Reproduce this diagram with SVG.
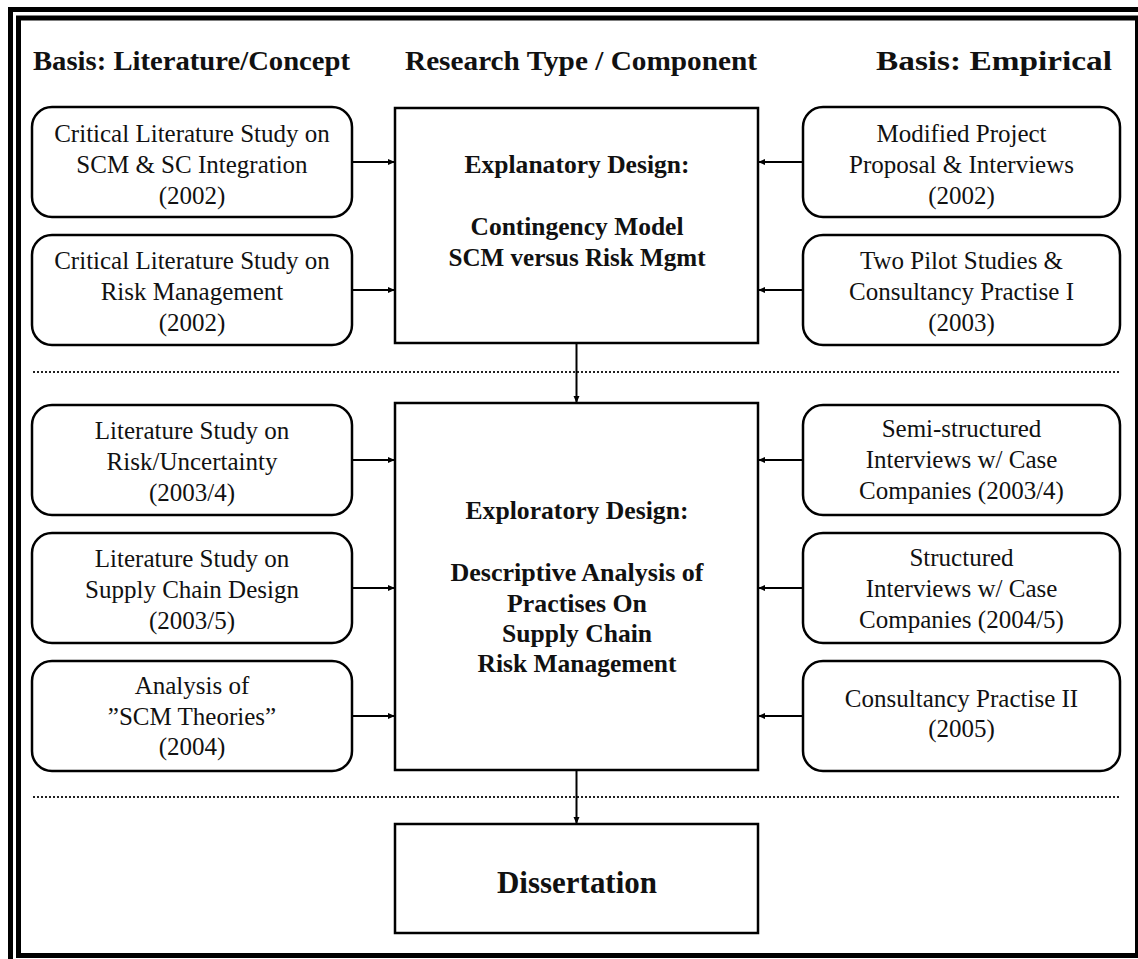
<svg xmlns="http://www.w3.org/2000/svg" width="1138" height="959" viewBox="0 0 1138 959">
<style>
.frame{fill:none;stroke:#000;stroke-width:5}
.rbox{fill:#fff;stroke:#000;stroke-width:2.5}
.mbox{fill:#fff;stroke:#000;stroke-width:2.5}
.t{font-family:"Liberation Serif","Times New Roman",serif;font-size:25px;fill:#111;text-anchor:middle}
.b{font-family:"Liberation Serif","Times New Roman",serif;font-weight:bold;font-size:26px;fill:#111;text-anchor:middle}
.h{font-family:"Liberation Serif","Times New Roman",serif;font-weight:bold;font-size:27px;fill:#111;text-anchor:middle}
.conn{stroke:#000;stroke-width:2;fill:none}
.dot{stroke:#222;stroke-width:2;stroke-dasharray:2 2;fill:none}
</style>
<defs>
<marker id="ah" markerWidth="8" markerHeight="8" refX="7" refY="4" orient="auto" markerUnits="userSpaceOnUse">
<path d="M0,1 L7,4 L0,7 Z" fill="#000"/>
</marker>
</defs>
<rect width="1138" height="959" fill="#fff"/>
<g id="frame">
<rect class="frame" x="10.5" y="9.5" width="1140" height="960"/>
<rect class="frame" x="18.5" y="18" width="1119" height="937.5"/>
</g>
<g id="headers">
<text class="h" x="191.5" y="70" textLength="317" lengthAdjust="spacingAndGlyphs">Basis: Literature/Concept</text>
<text class="h" x="581" y="70" textLength="352" lengthAdjust="spacingAndGlyphs">Research Type / Component</text>
<text class="h" x="994" y="70" textLength="236" lengthAdjust="spacingAndGlyphs">Basis: Empirical</text>
</g>
<g id="separators">
<line class="dot" x1="33" y1="372" x2="1119" y2="372"/>
<line class="dot" x1="33" y1="797" x2="1119" y2="797"/>
</g>
<g id="connectors">
<line class="conn" x1="352" y1="162" x2="395" y2="162" marker-end="url(#ah)"/>
<line class="conn" x1="352" y1="290" x2="395" y2="290" marker-end="url(#ah)"/>
<line class="conn" x1="803" y1="162" x2="758" y2="162" marker-end="url(#ah)"/>
<line class="conn" x1="803" y1="290" x2="758" y2="290" marker-end="url(#ah)"/>
<line class="conn" x1="576.5" y1="343" x2="576.5" y2="403" marker-end="url(#ah)"/>
<line class="conn" x1="352" y1="460" x2="395" y2="460" marker-end="url(#ah)"/>
<line class="conn" x1="352" y1="588" x2="395" y2="588" marker-end="url(#ah)"/>
<line class="conn" x1="352" y1="716" x2="395" y2="716" marker-end="url(#ah)"/>
<line class="conn" x1="803" y1="460" x2="758" y2="460" marker-end="url(#ah)"/>
<line class="conn" x1="803" y1="588" x2="758" y2="588" marker-end="url(#ah)"/>
<line class="conn" x1="803" y1="716" x2="758" y2="716" marker-end="url(#ah)"/>
<line class="conn" x1="576.5" y1="770" x2="576.5" y2="824" marker-end="url(#ah)"/>
</g>
<g id="lit1">
<rect class="rbox" x="32" y="107" width="320" height="110" rx="20"/>
<text class="t" x="192" y="142">Critical Literature Study on</text>
<text class="t" x="192" y="173">SCM &amp; SC Integration</text>
<text class="t" x="192" y="204">(2002)</text>
</g>
<g id="lit2">
<rect class="rbox" x="32" y="235" width="320" height="110" rx="20"/>
<text class="t" x="192" y="269">Critical Literature Study on</text>
<text class="t" x="192" y="300">Risk Management</text>
<text class="t" x="192" y="331">(2002)</text>
</g>
<g id="emp1">
<rect class="rbox" x="803" y="107" width="317" height="110" rx="20"/>
<text class="t" x="961.5" y="142">Modified Project</text>
<text class="t" x="961.5" y="173">Proposal &amp; Interviews</text>
<text class="t" x="961.5" y="204">(2002)</text>
</g>
<g id="emp2">
<rect class="rbox" x="803" y="235" width="317" height="110" rx="20"/>
<text class="t" x="961.5" y="269">Two Pilot Studies &amp;</text>
<text class="t" x="961.5" y="300">Consultancy Practise I</text>
<text class="t" x="961.5" y="331">(2003)</text>
</g>
<g id="explanatory">
<rect class="mbox" x="395" y="108" width="363" height="235"/>
<text class="b" x="577" y="173" textLength="225" lengthAdjust="spacingAndGlyphs">Explanatory Design:</text>
<text class="b" x="577" y="235" textLength="213" lengthAdjust="spacingAndGlyphs">Contingency Model</text>
<text class="b" x="577" y="266" textLength="257" lengthAdjust="spacingAndGlyphs">SCM versus Risk Mgmt</text>
</g>
<g id="lit3">
<rect class="rbox" x="32" y="405" width="320" height="110" rx="20"/>
<text class="t" x="192" y="439">Literature Study on</text>
<text class="t" x="192" y="470">Risk/Uncertainty</text>
<text class="t" x="192" y="501">(2003/4)</text>
</g>
<g id="lit4">
<rect class="rbox" x="32" y="533" width="320" height="110" rx="20"/>
<text class="t" x="192" y="567">Literature Study on</text>
<text class="t" x="192" y="598">Supply Chain Design</text>
<text class="t" x="192" y="629">(2003/5)</text>
</g>
<g id="lit5">
<rect class="rbox" x="32" y="661" width="320" height="110" rx="20"/>
<text class="t" x="192" y="694">Analysis of</text>
<text class="t" x="192" y="725">”SCM Theories”</text>
<text class="t" x="192" y="755">(2004)</text>
</g>
<g id="emp3">
<rect class="rbox" x="803" y="405" width="317" height="110" rx="20"/>
<text class="t" x="961.5" y="437">Semi-structured</text>
<text class="t" x="961.5" y="468">Interviews w/ Case</text>
<text class="t" x="961.5" y="499">Companies (2003/4)</text>
</g>
<g id="emp4">
<rect class="rbox" x="803" y="533" width="317" height="110" rx="20"/>
<text class="t" x="961.5" y="566">Structured</text>
<text class="t" x="961.5" y="597">Interviews w/ Case</text>
<text class="t" x="961.5" y="628">Companies (2004/5)</text>
</g>
<g id="emp5">
<rect class="rbox" x="803" y="661" width="317" height="110" rx="20"/>
<text class="t" x="961.5" y="707">Consultancy Practise II</text>
<text class="t" x="961.5" y="737">(2005)</text>
</g>
<g id="exploratory">
<rect class="mbox" x="395" y="403" width="363" height="367"/>
<text class="b" x="577" y="519" textLength="223" lengthAdjust="spacingAndGlyphs">Exploratory Design:</text>
<text class="b" x="577" y="581" textLength="253" lengthAdjust="spacingAndGlyphs">Descriptive Analysis of</text>
<text class="b" x="577" y="612" textLength="140" lengthAdjust="spacingAndGlyphs">Practises On</text>
<text class="b" x="577" y="642" textLength="150" lengthAdjust="spacingAndGlyphs">Supply Chain</text>
<text class="b" x="577" y="672" textLength="199" lengthAdjust="spacingAndGlyphs">Risk Management</text>
</g>
<g id="dissertation">
<rect class="mbox" x="395" y="824" width="363" height="109"/>
<text class="b" x="577" y="893" style="font-size:31px" textLength="160" lengthAdjust="spacingAndGlyphs">Dissertation</text>
</g>
</svg>
